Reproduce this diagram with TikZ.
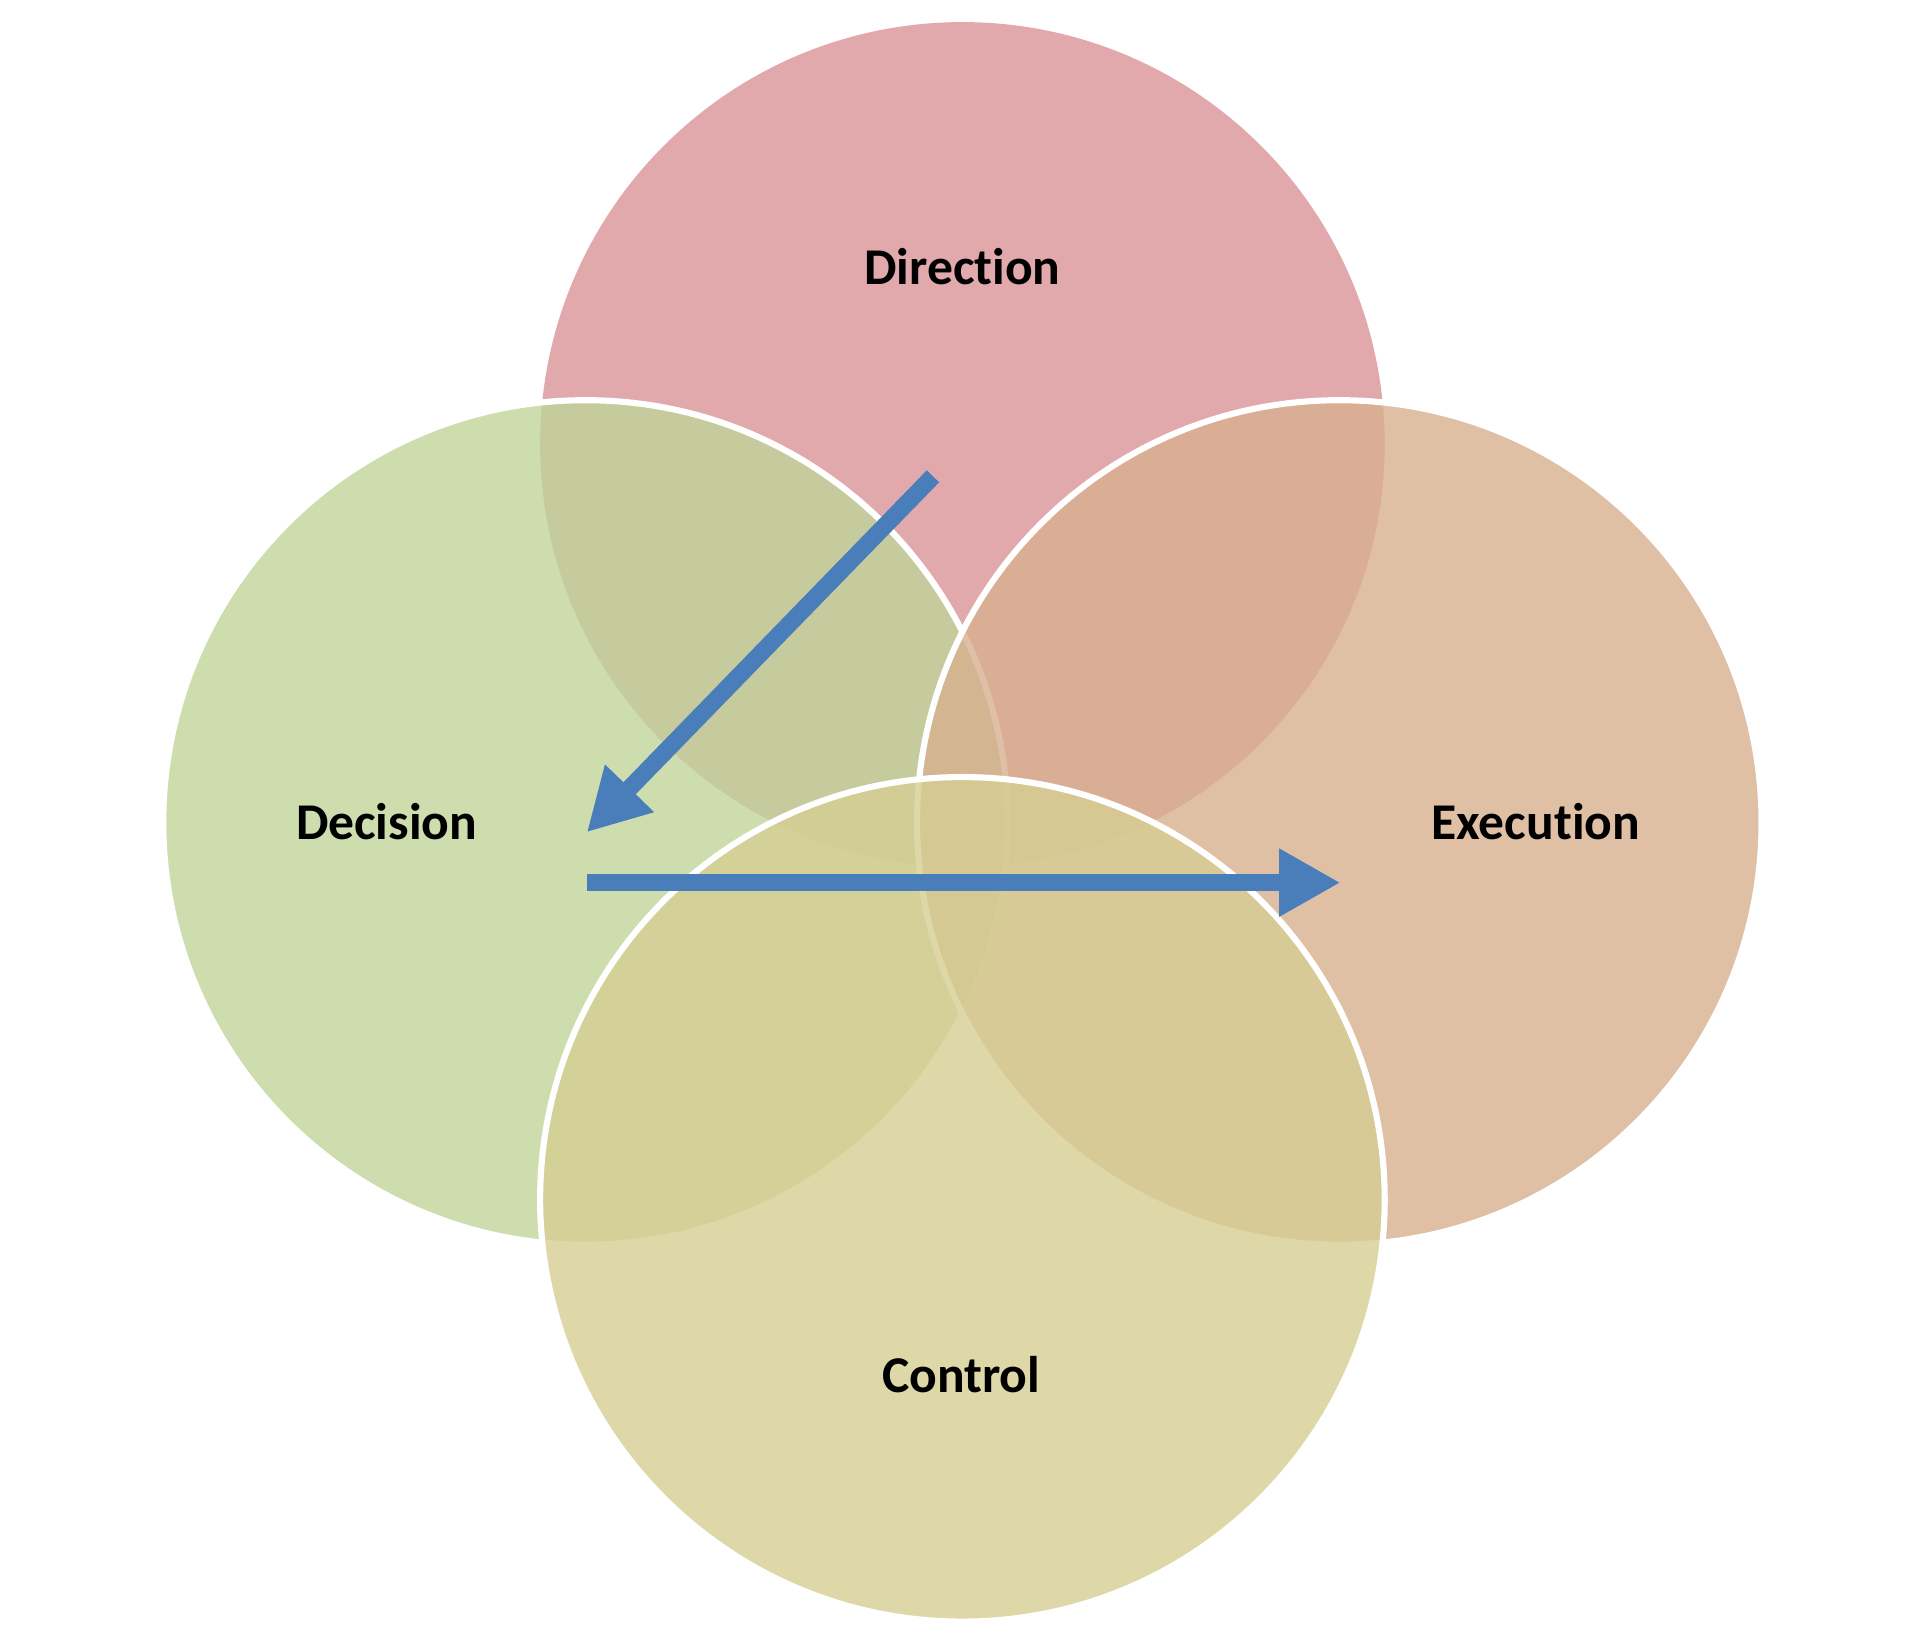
\documentclass[tikz,border=0pt]{standalone}
\usepackage{fontspec}
\setmainfont{Carlito}[Ligatures=NoCommon]
\usetikzlibrary{arrows.meta}
\definecolor{cdir}{HTML}{D99496}
\definecolor{cdec}{HTML}{C0D49A}
\definecolor{cexe}{HTML}{D7B08F}
\definecolor{ccon}{HTML}{D6CE93}
\definecolor{cblue}{HTML}{4A7EBB}
\tikzset{
  venn/.style={circle, minimum size=344pt, inner sep=0pt, draw=white, line width=2.5pt, fill opacity=0.8},
  lbl/.style={font=\bfseries\fontsize{21}{24}\selectfont},
  barrow/.style={draw=cblue, line width=7pt, -{Triangle[length=25pt,width=26pt]}}
}
\begin{document}
\begin{tikzpicture}[x=0.5pt,y=-0.5pt]
\useasboundingbox (0,0) rectangle (1560,1333);
\node[venn, fill=cdir, draw opacity=0] (dir) at (784,362) {};
\node[venn, fill=cdec] (dec) at (477,670) {};
\node[venn, fill=cexe] (exe) at (1091,670) {};
\node[venn, fill=ccon] (con) at (784,977) {};
\node[lbl] (tdir) at (784,217) {Direction};
\node[lbl] (tdec) at (315,669) {Decision};
\node[lbl] (texe) at (1251,669) {Execution};
\node[lbl] (tcon) at (783,1120) {Control};
\coordinate (a1s) at (760,388);
\coordinate (a1e) at (478,678);
\coordinate (a2s) at (478,719);
\coordinate (a2e) at (1092,719);
\draw[barrow] (a1s) -- (a1e);
\draw[barrow] (a2s) -- (a2e);
\end{tikzpicture}
\end{document}
